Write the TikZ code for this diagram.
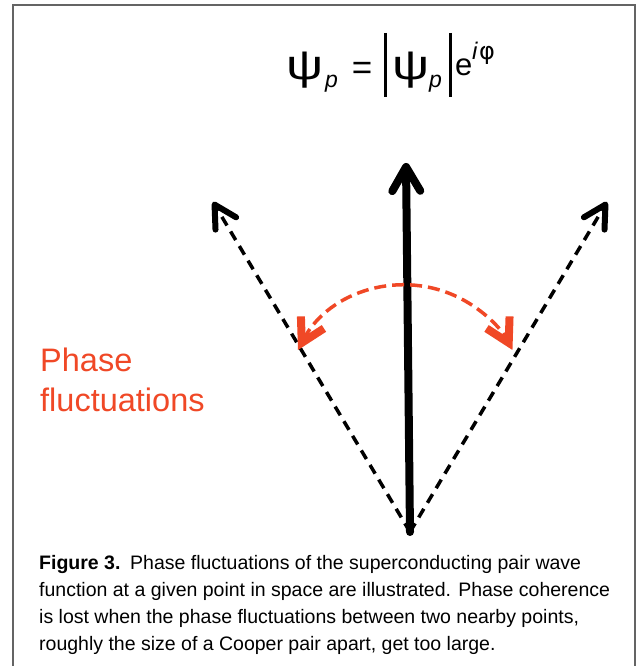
\documentclass[tikz,border=0pt]{standalone}
\usepackage{fontspec}
\usepackage{graphicx}
\setmainfont{Liberation Sans}
\newfontfamily\phifont{DejaVu Sans}
\usetikzlibrary{arrows.meta}
\definecolor{phasered}{RGB}{240,72,38}
\definecolor{framegray}{RGB}{100,100,100}
\newcommand{\widepsi}{\scalebox{1.3}[1.05]{ψ}}
\tikzset{
  mainarrow/.style={line width=8pt, line cap=round,
    -{Straight Barb[length=24pt,width=28pt,line width=8pt,round]}},
  sidearrow/.style={line width=3.5pt, dash pattern=on 10pt off 7pt,
    -{Straight Barb[length=22pt,width=24pt,line width=6pt,round]}},
  fluctarc/.style={phasered, line width=3.5pt, dash pattern=on 12pt off 6pt,
    {Straight Barb[length=23pt,width=26pt,line width=8pt]}-{Straight Barb[length=23pt,width=26pt,line width=8pt]}},
  formula/.style={anchor=base west, inner sep=0pt},
  psistyle/.style={anchor=base west, inner sep=0pt, font=\fontsize{40}{40}\selectfont},
  substyle/.style={anchor=base west, inner sep=0pt, font=\fontsize{23}{23}\selectfont\itshape},
  captionline/.style={anchor=base west, inner sep=0pt, font=\fontsize{19.5}{27}\selectfont},
  redlabel/.style={anchor=base west, inner sep=0pt, text=phasered, font=\fontsize{32.5}{40}\selectfont}
}
\begin{document}
\begin{tikzpicture}[x=1pt,y=1pt]
\useasboundingbox (0,0) rectangle (637,666);
\fill[white] (0,0) rectangle (637,666);
\draw[framegray, line width=2pt] (13,-2) -- (13,660.5) -- (635,660.5) -- (635,-2);

% formula
\node[psistyle] (psi1) at (286,586) {\widepsi};
\node[substyle] (p1) at (325,578) {p};
\node[inner sep=0pt, font=\fontsize{35}{35}\selectfont] (eq) at (362,595) {=};
\draw[line width=3pt] (385,633) -- (385,569);
\node[psistyle] (psi2) at (392,586) {\widepsi};
\node[substyle] (p2) at (429,578) {p};
\draw[line width=3pt] (450,633) -- (450,569);
\node[formula, font=\fontsize{31}{31}\selectfont] (e) at (455,590) {e};
\node[formula, font=\fontsize{24}{24}\selectfont] (ip) at (472,606) {\textit{i}\hspace{1pt}{\phifont φ}};

% arrows
\coordinate (O) at (410,134);
\coordinate (T) at (406,503);
\coordinate (L) at (213,464);
\coordinate (R) at (607,464);
\coordinate (A1) at (298,316);
\draw[sidearrow] (O) -- (L);
\draw[sidearrow] (O) -- (R);
\draw[mainarrow] (O) -- (T);
\draw[fluctarc] (A1) arc[start angle=152.4, end angle=27.6, radius=121];

% label
\node[redlabel] (ph1) at (40,294) {Phase};
\node[redlabel] (ph2) at (40,254) {fluctuations};

% caption
\node[captionline] (c1) at (39,96) {\textbf{Figure 3.}\hspace{0.5em}Phase fluctuations of the superconducting pair wave};
\node[captionline] (c2) at (39,69) {function at a given point in space are illustrated. Phase coherence};
\node[captionline] (c3) at (39,42) {is lost when the phase fluctuations between two nearby points,};
\node[captionline] (c4) at (39,15) {roughly the size of a Cooper pair apart, get too large.};
\end{tikzpicture}
\end{document}
